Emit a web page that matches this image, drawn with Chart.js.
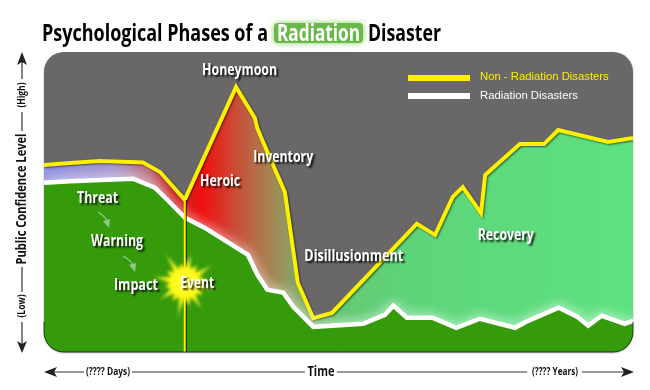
<!DOCTYPE html>
<html>
<head>
<meta charset="utf-8">
<title>Psychological Phases of a Radiation Disaster</title>
<script src="https://cdn.jsdelivr.net/npm/chart.js@4"></script>
<style>
  html, body { margin: 0; padding: 0; background: #fff; }
  canvas { display: block; }
</style>
</head>
<body>
<canvas id="phaseChart" width="650" height="390"></canvas>
<script>
// series values, x = % of time axis, y = % of confidence axis
const nonRadiationX = [0, 4.4, 9.5, 16.8, 19.7, 23.9, 32.6, 35.8, 36.2, 37.2, 40.9, 43.1, 45.7, 48.9, 63.3, 66.4, 69.4, 71.1, 74.2, 74.9, 80.8, 84.9, 87.3, 95.8, 100];
const nonRadiationY = [62.3, 63, 63.7, 63.2, 60, 50.7, 88.3, 78, 74.7, 70, 53.3, 23, 11.3, 13, 42.7, 39, 51.7, 55, 46.3, 59, 69.3, 69.3, 74, 70, 71.3];
const radiationX = [0, 4.4, 15.1, 18.8, 20.9, 23.9, 27.3, 34.6, 36.2, 37.9, 40.6, 42.3, 45.7, 54.2, 57.9, 59.3, 61.6, 66, 70, 74, 80, 82.2, 87.4, 90.5, 92.4, 94.7, 98.6, 100];
const radiationY = [56.3, 56.8, 57.7, 54.7, 50.7, 44.7, 41.3, 32.3, 25.7, 20.7, 19.7, 15, 8.3, 9.3, 12.3, 15.3, 11.3, 11.3, 8, 11, 8, 10.3, 14.7, 11.7, 8.7, 12, 9.3, 10.3];
const eventX = [23.9, 23.9];
const eventY = [50.7, 0];

// phase labels
const phaseNames = ['Honeymoon', 'Inventory', 'Heroic', 'Threat', 'Warning', 'Impact', 'Event', 'Disillusionment', 'Recovery'];
const phaseX = [33.2, 40.6, 29.9, 9.1, 12.4, 15.6, 26, 52.6, 78.4];
const phaseY = [93.7, 64.7, 56.7, 51.3, 37, 22.3, 22.7, 31.7, 38.7];
const phaseWidths = [75, 60, 40, 41, 52, 44, 34, 99, 56];

const toXY = (xs, ys) => xs.map((x, i) => ({ x, y: ys[i] }));
const heavy = '"Open Sans", sans-serif';

function bandGradient(c) {
  const area = c.chart.chartArea;
  if (!area) return '#5ee07f';
  const g = c.chart.ctx.createLinearGradient(area.left, 0, area.right, 0);
  g.addColorStop(0, '#8f8fe0');
  g.addColorStop(0.12, '#a898d0');
  g.addColorStop(0.18, '#c07080');
  g.addColorStop(0.22, '#d02020');
  g.addColorStop(0.27, '#f01010');
  g.addColorStop(0.33, '#c8503a');
  g.addColorStop(0.38, '#a88050');
  g.addColorStop(0.43, '#84a868');
  g.addColorStop(0.5, '#66c874');
  g.addColorStop(0.62, '#5ed47a');
  g.addColorStop(1, '#5ee280');
  return g;
}

function panelPath(ctx, a) {
  ctx.beginPath();
  ctx.roundRect(a.left, a.top, a.right - a.left, a.bottom - a.top, 20);
}

function shadowText(ctx, text, x, y, w) {
  ctx.save();
  ctx.shadowColor = 'rgba(0,0,0,0.85)';
  ctx.shadowBlur = 2;
  ctx.shadowOffsetX = 2;
  ctx.shadowOffsetY = 2;
  ctx.fillText(text, x, y, w);
  ctx.restore();
}

// rounded panel behind and around the marks
const panelPlugin = {
  id: 'panel',
  beforeDatasetsDraw(chart) {
    const { ctx, chartArea: a } = chart;
    ctx.save();
    ctx.shadowColor = 'rgba(0,0,0,0.35)';
    ctx.shadowBlur = 2;
    ctx.shadowOffsetY = 1;
    panelPath(ctx, a);
    ctx.fillStyle = '#696768';
    ctx.fill();
    ctx.restore();
    ctx.save();
    panelPath(ctx, a);
    ctx.clip();
  },
  beforeDatasetDraw(chart, args) {
    const ctx = chart.ctx;
    const name = chart.data.datasets[args.index].label;
    ctx.save();
    if (name === 'Glow') {
      ctx.shadowColor = 'rgba(255,255,255,1)';
      ctx.shadowBlur = 12;
    } else if (name === 'Non - Radiation Disasters') {
      ctx.shadowColor = 'rgba(0,0,0,0.55)';
      ctx.shadowBlur = 2;
      ctx.shadowOffsetX = 1;
      ctx.shadowOffsetY = 1;
    } else if (name === 'Event') {
      ctx.shadowColor = 'rgba(0,0,0,0.8)';
      ctx.shadowOffsetX = 1;
    }
  },
  afterDatasetDraw(chart) {
    chart.ctx.restore();
  },
  afterDatasetsDraw(chart) {
    const { ctx, chartArea: a } = chart;
    ctx.restore();
    // dark edge along the bottom of the green
    ctx.save();
    ctx.beginPath();
    ctx.rect(a.left - 2, a.bottom - 30, a.right - a.left + 4, 32);
    ctx.clip();
    panelPath(ctx, a);
    ctx.strokeStyle = 'rgba(10,40,0,0.8)';
    ctx.lineWidth = 1;
    ctx.stroke();
    ctx.restore();
  }
};

// event burst, labels, legend, axes and title
const textPlugin = {
  id: 'texts',
  afterDraw(chart) {
    const { ctx, scales } = chart;
    const sx = scales.x, sy = scales.y;

    // burst
    const bx = sx.getPixelForValue(eventX[0]);
    const by = sy.getPixelForValue(23);
    ctx.save();
    ctx.filter = 'blur(1.5px)';
    const rays = [36, 22, 32, 24, 40, 22, 30, 20, 34, 22, 38, 20, 30, 22, 34, 22];
    const burst = ctx.createRadialGradient(bx, by, 4, bx, by, 40);
    burst.addColorStop(0, '#ffff30');
    burst.addColorStop(0.35, '#fdf510');
    burst.addColorStop(0.62, 'rgba(225,232,50,0.65)');
    burst.addColorStop(1, 'rgba(150,200,40,0)');
    ctx.fillStyle = burst;
    ctx.beginPath();
    rays.forEach((r, i) => {
      const t = (i / rays.length) * Math.PI * 2 + 0.2;
      const inner = t + Math.PI / rays.length;
      ctx.lineTo(bx + Math.cos(t) * r, by + Math.sin(t) * r);
      ctx.lineTo(bx + Math.cos(inner) * 15, by + Math.sin(inner) * 15);
    });
    ctx.closePath();
    ctx.fill();
    ctx.restore();

    // small arrows between the early phases
    ctx.save();
    ctx.strokeStyle = ctx.fillStyle = '#8fc98a';
    ctx.lineWidth = 1.3;
    [[98, 212, 108, 228], [123, 256, 134, 272]].forEach(([x0, y0, x1, y1]) => {
      ctx.beginPath();
      ctx.moveTo(x0, y0);
      ctx.quadraticCurveTo(x1 - 2, y0 + 5, x1, y1 - 5);
      ctx.stroke();
      ctx.beginPath();
      ctx.moveTo(x1 + 1, y1);
      ctx.lineTo(x1 - 5, y1 - 7);
      ctx.lineTo(x1 + 2, y1 - 9);
      ctx.closePath();
      ctx.fill();
    });
    ctx.restore();

    // phase labels
    ctx.save();
    ctx.font = 'bold 16px ' + heavy;
    ctx.fillStyle = '#fff';
    ctx.textAlign = 'center';
    ctx.textBaseline = 'middle';
    phaseNames.forEach((name, i) => {
      shadowText(ctx, name, sx.getPixelForValue(phaseX[i]), sy.getPixelForValue(phaseY[i]), phaseWidths[i]);
    });
    ctx.restore();

    // legend
    ctx.save();
    ctx.font = '11.3px "Liberation Sans", Arial, sans-serif';
    ctx.textBaseline = 'middle';
    chart.data.datasets.filter(d => d.inLegend).forEach((d, i) => {
      const y = 78 + i * 18;
      ctx.fillStyle = d.borderColor;
      ctx.fillRect(408, y - 3, 62, 6);
      ctx.fillText(d.label, 480, y - 1 + i);
    });
    ctx.restore();

    // axis decoration
    ctx.save();
    ctx.strokeStyle = '#333';
    ctx.fillStyle = '#222';
    ctx.lineWidth = 1.2;
    const seg = (x0, y0, x1, y1) => {
      ctx.beginPath(); ctx.moveTo(x0, y0); ctx.lineTo(x1, y1); ctx.stroke();
    };
    const head = (pts) => {
      ctx.beginPath();
      ctx.moveTo(pts[0], pts[1]);
      ctx.lineTo(pts[2], pts[3]);
      ctx.lineTo(pts[4], pts[5]);
      ctx.lineTo(pts[6], pts[7]);
      ctx.closePath();
      ctx.fill();
    };
    seg(22, 60, 22, 79);
    seg(22, 112, 22, 131);
    seg(22, 267, 22, 292);
    seg(22, 322, 22, 345);
    head([22, 52, 17, 65, 22, 62, 27, 65]);
    head([22, 353, 17, 341, 22, 344, 27, 341]);
    seg(50, 372, 84, 372);
    seg(132, 372, 305, 372);
    seg(337, 372, 527, 372);
    seg(582, 372, 628, 372);
    head([44, 372, 57, 367, 54, 372, 57, 377]);
    head([634, 372, 621, 367, 624, 372, 621, 377]);

    ctx.fillStyle = '#111';
    ctx.textAlign = 'center';
    ctx.textBaseline = 'middle';
    ctx.font = 'bold 11px ' + heavy;
    ctx.fillText('(???? Days)', 108, 372, 44);
    ctx.fillText('(???? Years)', 555, 372, 46);
    ctx.font = 'bold 15px ' + heavy;
    ctx.fillText('Time', 321, 372, 27);
    ctx.save();
    ctx.translate(22, 0);
    ctx.rotate(-Math.PI / 2);
    ctx.font = 'bold 11px ' + heavy;
    ctx.fillText('(High)', -95, 0, 25);
    ctx.fillText('(Low)', -306, 0, 23);
    ctx.font = 'bold 14px ' + heavy;
    ctx.fillText('Public Confidence Level', -199, 0, 131);
    ctx.restore();
    ctx.restore();

    // title
    ctx.save();
    ctx.textBaseline = 'alphabetic';
    ctx.font = 'bold 23px ' + heavy;
    ctx.fillStyle = '#000';
    ctx.fillText('Psychological Phases of a', 42, 41, 226);
    ctx.save();
    ctx.shadowColor = '#8ed06c';
    ctx.shadowBlur = 6;
    ctx.fillStyle = '#6ab84a';
    ctx.beginPath();
    ctx.roundRect(274, 23, 89, 20, 4);
    ctx.fill();
    ctx.restore();
    ctx.fillStyle = '#fff';
    ctx.fillText('Radiation', 277, 41, 83);
    ctx.fillStyle = '#000';
    ctx.fillText('Disaster', 368, 41, 73);
    ctx.restore();
  }
};

new Chart(document.getElementById('phaseChart').getContext('2d'), {
  type: 'line',
  data: {
    datasets: [
      {
        label: 'Event',
        data: toXY(eventX, eventY),
        borderColor: '#fdf200',
        borderWidth: 2,
        pointRadius: 0,
        fill: false,
        order: 1
      },
      {
        label: 'Non - Radiation Disasters',
        data: toXY(nonRadiationX, nonRadiationY),
        borderColor: '#fdf000',
        backgroundColor: bandGradient,
        borderWidth: 4,
        pointRadius: 0,
        borderJoinStyle: 'miter',
        fill: 'origin',
        inLegend: true,
        order: 4
      },
      {
        label: 'Glow',
        data: toXY(radiationX, radiationY),
        borderColor: '#ffffff',
        borderWidth: 5,
        pointRadius: 0,
        fill: false,
        order: 3
      },
      {
        label: 'Radiation Disasters',
        data: toXY(radiationX, radiationY),
        borderColor: '#ffffff',
        backgroundColor: '#369b0b',
        borderWidth: 4,
        pointRadius: 0,
        fill: 'origin',
        inLegend: true,
        order: 2
      }
    ]
  },
  options: {
    responsive: false,
    animation: false,
    layout: { padding: { left: 44, right: 17, top: 52, bottom: 38 } },
    scales: {
      x: { type: 'linear', min: 0, max: 100, display: false },
      y: { type: 'linear', min: 0, max: 100, display: false }
    },
    plugins: {
      legend: { display: false },
      title: { display: false },
      tooltip: { enabled: false }
    }
  },
  plugins: [panelPlugin, textPlugin]
});
</script>
</body>
</html>
